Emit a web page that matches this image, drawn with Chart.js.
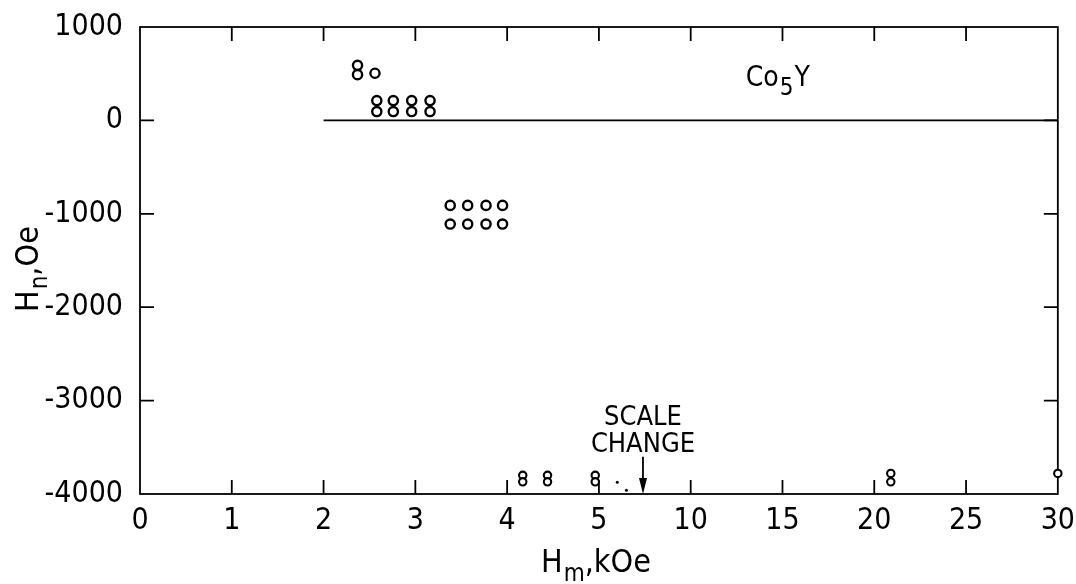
<!DOCTYPE html>
<html>
<head>
<meta charset="utf-8">
<script src="https://cdn.jsdelivr.net/npm/chart.js@4.4.0/dist/chart.umd.min.js"></script>
<style>
  html, body { margin: 0; padding: 0; background: #fff; }
</style>
</head>
<body>
<canvas id="chart" width="1076" height="584"></canvas>
<script>
// x axis has a scale change after 5 kOe: 0..5 linear, then 10,15,...,30 at one slot each
var xTickLabels = ['0', '1', '2', '3', '4', '5', '10', '15', '20', '25', '30'];
var yTicks = [1000, 0, -1000, -2000, -3000, -4000];

// open circles (Hm in kOe, Hn in Oe)
var hmBig = [2.37, 2.37, 2.56,
             2.58, 2.76, 2.96, 3.16, 2.58, 2.76, 2.96, 3.16,
             3.38, 3.57, 3.77, 3.95, 3.38, 3.57, 3.77, 3.95];
var hnBig = [590, 490, 505,
             212, 212, 212, 212, 95, 95, 95, 95,
             -910, -910, -910, -910, -1110, -1110, -1110, -1110];

// smaller circles along the bottom
var hmSmall = [4.17, 4.17, 4.44, 4.44, 4.96, 4.96, 20.9, 20.9, 30];
var hnSmall = [-3800, -3870, -3800, -3870, -3800, -3870, -3780, -3870, -3780];

// stray dots next to the 5 kOe pair
var hmDots = [6.0, 6.5];
var hnDots = [-3875, -3960];

// reference line at Hn = 0
var lineHm = [2, 30];
var lineHn = [0, 0];

var scaleChangeAt = 7.4;

var FONT = '"Liberation Sans Narrow", "DejaVu Sans Condensed", "Liberation Sans", sans-serif';

// map kOe onto the axis slots
function toAxis(hm) {
  return hm <= 5 ? hm : 5 + (hm - 5) / 5;
}
function pts(xs, ys) {
  return xs.map(function(x, i) { return { x: toAxis(x), y: ys[i] }; });
}

var framePlugin = {
  id: 'frame',
  beforeDatasetsDraw: function(chart) {
    var ctx = chart.ctx, a = chart.chartArea;
    var xs = chart.scales.x, ys = chart.scales.y;
    ctx.save();
    ctx.strokeStyle = '#000';
    ctx.lineWidth = 1.8;
    ctx.strokeRect(a.left, a.top, a.right - a.left, a.bottom - a.top);
    ctx.beginPath();
    for (var i = 1; i < xTickLabels.length - 1; i++) {
      var px = xs.getPixelForValue(i);
      ctx.moveTo(px, a.bottom); ctx.lineTo(px, a.bottom - 14);
      ctx.moveTo(px, a.top); ctx.lineTo(px, a.top + 14);
    }
    yTicks.forEach(function(v) {
      if (v === yTicks[0] || v === yTicks[yTicks.length - 1]) return;
      var py = ys.getPixelForValue(v);
      ctx.moveTo(a.left, py); ctx.lineTo(a.left + 14, py);
      ctx.moveTo(a.right, py); ctx.lineTo(a.right - 14, py);
    });
    ctx.stroke();
    ctx.restore();
  },
  afterDraw: function(chart) {
    var ctx = chart.ctx, a = chart.chartArea;
    var xs = chart.scales.x, ys = chart.scales.y;
    ctx.save();
    ctx.fillStyle = '#000';
    ctx.strokeStyle = '#000';
    ctx.textBaseline = 'alphabetic';

    // Co5Y label
    var cx = xs.getPixelForValue(toAxis(13)), cy = ys.getPixelForValue(370);
    ctx.font = '28px ' + FONT;
    ctx.fillText('Co', cx, cy);
    cx += ctx.measureText('Co').width + 1;
    ctx.font = '24px ' + FONT;
    ctx.fillText('5', cx, cy + 9);
    cx += ctx.measureText('5').width + 1;
    ctx.font = '28px ' + FONT;
    ctx.fillText('Y', cx, cy);

    // scale change arrow
    var ax = xs.getPixelForValue(toAxis(scaleChangeAt));
    ctx.textAlign = 'center';
    ctx.font = '27px ' + FONT;
    ctx.fillText('SCALE', ax, ys.getPixelForValue(-3260));
    ctx.fillText('CHANGE', ax, ys.getPixelForValue(-3550));
    ctx.lineWidth = 1.8;
    ctx.beginPath();
    ctx.moveTo(ax, ys.getPixelForValue(-3600));
    ctx.lineTo(ax, a.bottom - 10);
    ctx.stroke();
    ctx.beginPath();
    ctx.moveTo(ax - 4, a.bottom - 16);
    ctx.lineTo(ax + 4, a.bottom - 16);
    ctx.lineTo(ax, a.bottom);
    ctx.closePath();
    ctx.fill();

    // x axis title: Hm, kOe
    ctx.textAlign = 'left';
    var tx = 541, ty = 572;
    ctx.font = '32px ' + FONT;
    ctx.fillText('H', tx, ty);
    tx += ctx.measureText('H').width + 1;
    ctx.font = '24px ' + FONT;
    ctx.fillText('m', tx, ty + 9);
    tx += ctx.measureText('m').width;
    ctx.font = '32px ' + FONT;
    ctx.fillText(',kOe', tx, ty);

    // y axis title: Hn, Oe (rotated)
    ctx.translate(38, 312);
    ctx.rotate(-Math.PI / 2);
    var rx = 0;
    ctx.font = '32px ' + FONT;
    ctx.fillText('H', rx, 0);
    rx += ctx.measureText('H').width + 1;
    ctx.font = '24px ' + FONT;
    ctx.fillText('n', rx, 9);
    rx += ctx.measureText('n').width;
    ctx.font = '32px ' + FONT;
    ctx.fillText(',Oe', rx, 0);
    ctx.restore();
  }
};

var ctx = document.getElementById('chart');
var chart = new Chart(ctx, {
  type: 'scatter',
  data: {
    datasets: [
      {
        data: pts(lineHm, lineHn),
        showLine: true,
        borderColor: '#000',
        borderWidth: 1.8,
        pointRadius: 0,
        clip: false
      },
      {
        data: pts(hmBig, hnBig),
        pointRadius: 4.6,
        pointBorderWidth: 2.4,
        pointBackgroundColor: '#fff',
        pointBorderColor: '#000',
        clip: false
      },
      {
        data: pts(hmSmall, hnSmall),
        pointRadius: 3.7,
        pointBorderWidth: 2.1,
        pointBackgroundColor: '#fff',
        pointBorderColor: '#000',
        clip: false
      },
      {
        data: pts(hmDots, hnDots),
        pointRadius: 1.5,
        pointBorderWidth: 0,
        pointBackgroundColor: '#000',
        clip: false
      }
    ]
  },
  options: {
    responsive: false,
    animation: false,
    devicePixelRatio: 1,
    layout: { padding: { left: 0, right: 18, top: 22, bottom: 0 } },
    plugins: { legend: { display: false }, tooltip: { enabled: false } },
    scales: {
      x: {
        type: 'linear',
        min: 0,
        max: 10,
        grid: { display: false },
        border: { display: false },
        ticks: {
          stepSize: 1,
          padding: 1,
          color: '#000',
          font: { family: FONT, size: 30 },
          maxRotation: 0,
          callback: function(v) { return xTickLabels[v]; }
        },
        afterFit: function(s) { s.height = 90; }
      },
      y: {
        min: -4000,
        max: 1000,
        grid: { display: false },
        border: { display: false },
        ticks: {
          stepSize: 1000,
          padding: 9,
          color: '#000',
          font: { family: FONT, size: 30 },
          callback: function(v) { return String(v); }
        },
        afterFit: function(s) { s.width = 140; }
      }
    }
  },
  plugins: [framePlugin]
});
</script>
</body>
</html>
